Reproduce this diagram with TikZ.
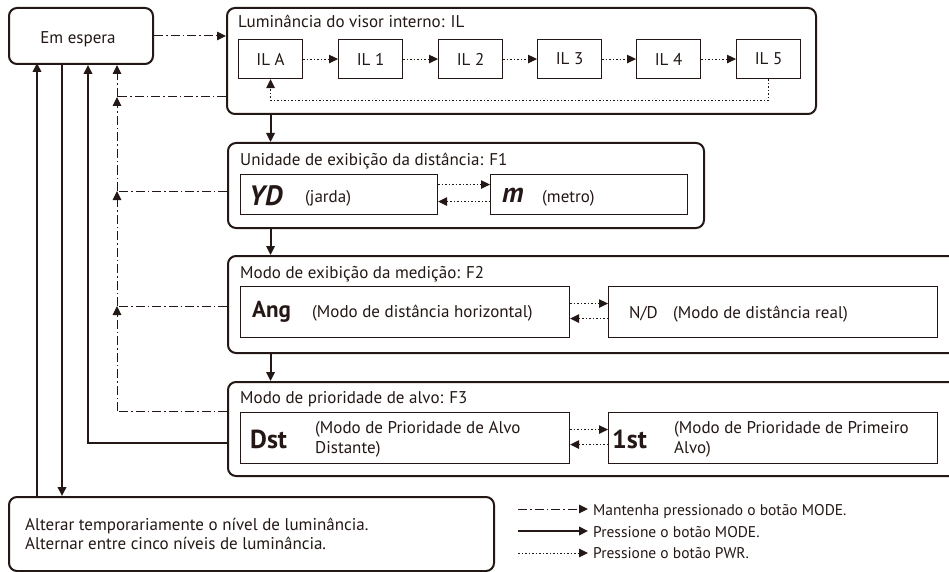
\documentclass[tikz,border=0pt]{standalone}
\usepackage{fontspec}
\setmainfont{PT Sans}
\usetikzlibrary{arrows.meta}
\definecolor{ink}{HTML}{231815}
\begin{document}
\begin{tikzpicture}[x=1pt,y=-1pt,
  every node/.style={text=ink, font=\fontsize{17}{20}\selectfont, inner sep=0pt},
  outerbox/.style={draw=ink, line width=2pt, rounded corners=8pt, anchor=north west},
  innerbox/.style={draw=ink, line width=1.1pt, anchor=north west},
  tip/.style={-{Triangle[length=9pt,width=8.5pt]}},
  hold/.style={draw=ink, line width=1pt, dash pattern=on 9pt off 3pt on 1.5pt off 3pt},
  press/.style={draw=ink, line width=2pt},
  pwr/.style={draw=ink, line width=1pt, dash pattern=on 1.5pt off 2pt},
  lbl/.style={anchor=base west},
  legendtext/.style={anchor=base west, font=\fontsize{15.5}{18}\selectfont},
  bigit/.style={anchor=base west, font=\fontsize{28}{30}\selectfont\bfseries\itshape},
  bigbf/.style={anchor=base west, font=\fontsize{26}{28}\selectfont\bfseries}
]
\useasboundingbox (0,0) rectangle (949,572);
\fill[white] (0,0) rectangle (949,572);
\clip (0,0) rectangle (949,572);

% Em espera
\node[outerbox, minimum width=144, minimum height=56] (em) at (8,7) {};
\node[anchor=base] (emt) at (78,44) {Em espera};

% IL block
\node[outerbox, minimum width=589, minimum height=106] (il) at (226,7) {};
\node[lbl] (ilt) at (238,28) {Luminância do visor interno: IL};
\node[innerbox, minimum width=64, minimum height=39] (ila) at (238,39) {IL A};
\node[innerbox, minimum width=64, minimum height=39] (il1) at (338,39) {IL 1};
\node[innerbox, minimum width=64, minimum height=39] (il2) at (438,39) {IL 2};
\node[innerbox, minimum width=64, minimum height=39] (il3) at (537,39) {IL 3};
\node[innerbox, minimum width=64, minimum height=39] (il4) at (636,39) {IL 4};
\node[innerbox, minimum width=64, minimum height=39] (il5) at (736,39) {IL 5};
\draw[pwr,tip] (ila) -- (il1);
\draw[pwr,tip] (il1) -- (il2);
\draw[pwr,tip] (il2) -- (il3);
\draw[pwr,tip] (il3) -- (il4);
\draw[pwr,tip] (il4) -- (il5);
\draw[pwr,tip] (il5.south) -- ++(0,21) -| (ila.south);

% F1
\node[outerbox, minimum width=476, minimum height=85] (f1) at (227,142) {};
\node[lbl] (f1t) at (240,165) {Unidade de exibição da distância: F1};
\node[innerbox, minimum width=197, minimum height=40] (yd) at (240,174) {};
\node[innerbox, minimum width=197, minimum height=40] (mb) at (490,174) {};
\node[bigit] (ydt) at (249,205) {YD};
\node[lbl] (ydp) at (305,202) {(jarda)};
\node[bigit] (mt) at (502,202) {m};
\node[lbl] (mp) at (542,202) {(metro)};
\draw[pwr,tip] ([yshift=10pt]yd.east) -- ([yshift=10pt]mb.west);
\draw[pwr,tip] ([yshift=-7pt]mb.west) -- ([yshift=-7pt]yd.east);

% F2
\node[outerbox, minimum width=760, minimum height=97] (f2) at (227,255) {};
\node[lbl] (f2t) at (240,278) {Modo de exibição da medição: F2};
\node[innerbox, minimum width=329, minimum height=51] (ang) at (240,286) {};
\node[innerbox, minimum width=329, minimum height=51] (nd) at (608,286) {};
\node[anchor=base west, font=\fontsize{23}{25}\selectfont\bfseries] (angt) at (252,317) {Ang};
\node[lbl] (angp) at (312,317) {(Modo de distância horizontal)};
\node[lbl] (ndt) at (629,318) {N/D};
\node[lbl] (ndp) at (673,318) {(Modo de distância real)};
\draw[pwr,tip] ([yshift=8.5pt]ang.east) -- ([yshift=8.5pt]nd.west);
\draw[pwr,tip] ([yshift=-6.5pt]nd.west) -- ([yshift=-6.5pt]ang.east);

% F3
\node[outerbox, minimum width=760, minimum height=94] (f3) at (227,381) {};
\node[lbl] (f3t) at (240,403) {Modo de prioridade de alvo: F3};
\node[innerbox, minimum width=329, minimum height=51] (dst) at (240,412) {};
\node[innerbox, minimum width=329, minimum height=51] (fst) at (608,412) {};
\node[bigbf] (dstt) at (250,448) {Dst};
\node[lbl] (dstp1) at (315,433) {(Modo de Prioridade de Alvo};
\node[lbl] (dstp2) at (315,453) {Distante)};
\node[bigbf] (fstt) at (612,448) {1st};
\node[lbl] (fstp1) at (674,433) {(Modo de Prioridade de Primeiro};
\node[lbl] (fstp2) at (674,453) {Alvo)};
\draw[pwr,tip] ([yshift=8.5pt]dst.east) -- ([yshift=8.5pt]fst.west);
\draw[pwr,tip] ([yshift=-6.5pt]fst.west) -- ([yshift=-6.5pt]dst.east);

% vertical MODE arrows between blocks
\draw[press,tip] (ila.south |- il.south) -- (ila.south |- f1.north);
\draw[press,tip] (ila.south |- f1.south) -- (ila.south |- f2.north);
\draw[press,tip] (ila.south |- f2.south) -- (ila.south |- f3.north);

% bottom box
\node[outerbox, minimum width=485, minimum height=74] (bot) at (8,496) {};
\node[lbl] (bt1) at (25,530) {Alterar temporariamente o nível de luminância.};
\node[lbl] (bt2) at (25,549) {Alternar entre cinco níveis de luminância.};

% hold connectors back to Em espera
\coordinate (j0) at (117,97);
\coordinate (j1) at (117,191);
\coordinate (j2) at (117,306);
\coordinate (j3) at (117,411);
\draw[hold] (j0 -| il.west) -- (j0);
\draw[hold,tip] (j0) -- (j0 |- em.south);
\draw[hold] (j1 -| f1.west) -- (j1);
\draw[hold,tip] (j1) -- (j0);
\draw[hold] (j2 -| f2.west) -- (j2);
\draw[hold,tip] (j2) -- (j1);
\draw[hold] (j3 -| f3.west) -- (j3);
\draw[hold,tip] (j3) -- (j2);
\draw[hold,tip] (em.east) -- (em.east -| il.west);

% press connectors
\coordinate (s3) at (88,443);
\draw[press,tip] (s3 -| f3.west) -- (s3) -- (s3 |- em.south);
\coordinate (c62) at (62,63);
\draw[press,tip] (c62) -- (c62 |- bot.north);
\coordinate (c37) at (37,63);
\draw[press,tip] (c37 |- bot.north) -- (c37);

% legend
\coordinate (l1a) at (518,509); \coordinate (l1b) at (588,509);
\coordinate (l2a) at (518,531); \coordinate (l2b) at (588,531);
\coordinate (l3a) at (518,553); \coordinate (l3b) at (588,553);
\draw[hold,tip] (l1a) -- (l1b);
\draw[press,tip] (l2a) -- (l2b);
\draw[pwr,tip] (l3a) -- (l3b);
\node[legendtext] (lt1) at (593,515) {Mantenha pressionado o botão MODE.};
\node[legendtext] (lt2) at (593,537) {Pressione o botão MODE.};
\node[legendtext] (lt3) at (593,558) {Pressione o botão PWR.};
\end{tikzpicture}
\end{document}
